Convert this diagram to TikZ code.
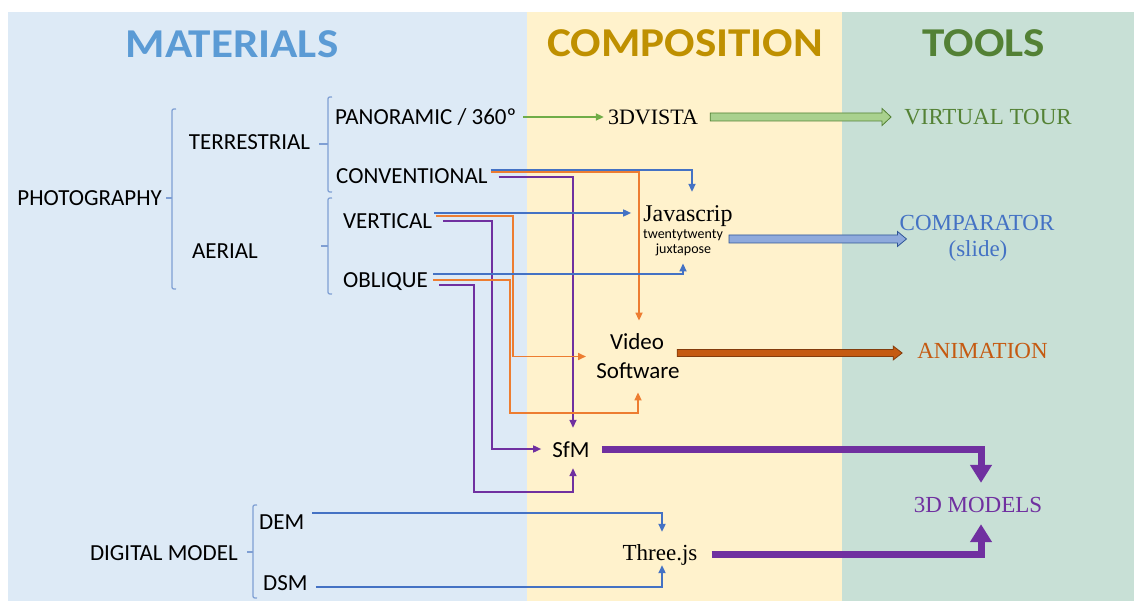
\documentclass[tikz,border=0pt]{standalone}
\usepackage{fontspec}
\setmainfont{Liberation Serif}
\newfontfamily\carl{Carlito}
\usetikzlibrary{arrows.meta,calc,fit}
\definecolor{pA}{HTML}{DDEAF6}
\definecolor{pB}{HTML}{FFF2CC}
\definecolor{pC}{HTML}{C8E0D6}
\definecolor{lblue}{HTML}{4472C4}
\definecolor{lorange}{HTML}{ED7D31}
\definecolor{lpurple}{HTML}{7030A0}
\definecolor{lgreen}{HTML}{70AD47}
\definecolor{brk}{HTML}{7F9FD3}
\definecolor{hMat}{HTML}{5B9BD5}
\definecolor{hCom}{HTML}{BF9000}
\definecolor{hToo}{HTML}{538135}
\definecolor{tGreen}{HTML}{548235}
\definecolor{tBlue}{HTML}{4472C4}
\definecolor{tOrange}{HTML}{C55A11}
\definecolor{tPurple}{HTML}{7030A0}
\definecolor{gFill}{HTML}{A9D18E}
\definecolor{gDraw}{HTML}{548235}
\definecolor{bFill}{HTML}{8FAADC}
\definecolor{bDraw}{HTML}{2F5597}
\definecolor{oFill}{HTML}{C55A11}
\definecolor{oDraw}{HTML}{843C0C}
\newcommand\blkarrow[7]{%
  \filldraw[fill=#1,draw=#2,line width=0.8pt] ($(#3)+(0,-#5)$) -- ($(#4)+(-#7,-#5)$) -- ($(#4)+(-#7,-#6)$) -- (#4) -- ($(#4)+(-#7,#6)$) -- ($(#4)+(-#7,#5)$) -- ($(#3)+(0,#5)$) -- cycle;}
\newcommand\hdtext[1]{\scalebox{1.1}[1]{#1}}
\begin{document}
\begin{tikzpicture}[x=1pt,y=-1pt,
  sl/.style={inner sep=0pt, text height=14.8pt, text depth=0pt, font=\carl\fontsize{23}{26}\selectfont},
  ss/.style={inner sep=0pt, text height=8.5pt, text depth=0pt, font=\carl\fontsize{14}{16}\selectfont},
  sr/.style={inner sep=0pt, text height=15.2pt, text depth=0pt, font=\fontsize{23}{26}\selectfont},
  hd/.style={inner sep=0pt, text height=26.4pt, text depth=0pt, font=\carl\bfseries\fontsize{41}{45}\selectfont},
  bk/.style={draw=brk, line width=1.2pt},
  cn/.style={line width=1.6pt, -{Triangle[length=8pt,width=7pt]}},
  fat/.style={line width=7pt, draw=lpurple, -{Triangle[length=18pt,width=21pt]}},
]
\useasboundingbox (0,0) rectangle (1134,601);
% panels
\fill[pA] (8,12) rectangle (527,601);
\fill[pB] (527,12) rectangle (842,601);
\fill[pC] (842,12) rectangle (1134,601);
% headers
\node[hd,text=hMat] (hmat) at (232,44.5) {\hdtext{MATERIALS}};
\node[hd,text=hCom] (hcom) at (685,43.5) {\hdtext{COMPOSITION}};
\node[hd,text=hToo] (htoo) at (984,43.5) {\hdtext{TOOLS}};
% materials
\node[sl,anchor=east] (photo) at (162,198) {PHOTOGRAPHY};
\node[sl] (terr) at (249.5,142) {TERRESTRIAL};
\node[sl] (aer) at (225,251) {AERIAL};
\node[sl,anchor=west] (pano) at (335,117) {PANORAMIC / 360º};
\node[sl,anchor=west] (conv) at (336,176) {CONVENTIONAL};
\node[sl,anchor=west] (vert) at (343,221) {VERTICAL};
\node[sl,anchor=west] (obl) at (343,280) {OBLIQUE};
\node[sl,anchor=east] (dm) at (238,553) {DIGITAL MODEL};
\node[sl,anchor=west] (dem) at (259,522) {DEM};
\node[sl,anchor=west] (dsm) at (263,583) {DSM};
% composition
\node[sr,font=\fontsize{22}{26}\selectfont,text height=14.6pt] (vista) at (653,117) {3DVISTA};
\node[sr,font=\fontsize{24}{28}\selectfont,text height=15.9pt] (js) at (688,214) {Javascrip};
\node[ss] (tw) at (683,234) {twentytwenty};
\node[ss] (jx) at (683.5,249) {juxtapose};
\node[sl] (video) at (637,342) {Video};
\node[sl] (soft) at (638,371) {Software};
\node[inner sep=0pt,fit=(video)(soft)] (vs) {};
\node[sl] (sfm) at (571,450) {SfM};
\node[sr] (three) at (660,553) {Three.js};
% tools
\node[sr,text=tGreen] (vt) at (988,117) {VIRTUAL TOUR};
\node[sr,text=tBlue] (comp) at (977,223) {COMPARATOR};
\node[sr,text=tBlue] (slide) at (978,249) {(slide)};
\node[sr,text=tOrange] (anim) at (982.5,351) {ANIMATION};
\node[sr,text=tPurple] (m3d) at (978,505) {3D MODELS};
% brackets
\draw[bk] (176,109) .. controls (172,109) .. (172,113) -- (172,285) .. controls (172,289) .. (176,289);
\draw[bk] ($(photo.east)+(4,0)$) -- (172,198);
\draw[bk] (332,97) .. controls (328,97) .. (328,101) -- (328,188) .. controls (328,192) .. (332,192);
\draw[bk] ($(terr.east)+(9,2)$) -- (328,144);
\draw[bk] (332,198) .. controls (328,198) .. (328,202) -- (328,290) .. controls (328,294) .. (332,294);
\draw[bk] (321,246) -- (328,246);
\draw[bk] (257,505) .. controls (253,505) .. (253,509) -- (253,594) .. controls (253,598) .. (257,598);
\draw[bk] ($(dm.east)+(9,-1)$) -- (253,552);
% thin connectors
\draw[cn,lgreen] ($(pano.east)+(7,0)$) -- ($(vista.west)+(-4,0)$);
\draw[cn,lblue] ($(conv.east)+(3,-6)$) -| ($(js.north)+(4,-14)$);
\draw[cn,lorange] ($(conv.east)+(3,-4)$) -| ($(vs.north)+(1,-13.6)$);
\draw[cn,lpurple] ($(conv.east)+(11,1)$) -| ($(sfm.north)+(2,-14.6)$);
\draw[cn,lblue] ($(vert.east)+(2,-8)$) -- ($(js.west)+(-12,-1)$);
\draw[cn,lorange] ($(vert.east)+(4,-5)$) -| (513,300) |- ($(vs.west)+(-10,0)$);
\draw[cn,lpurple] ($(vert.east)+(11,0)$) -| (492,300) |- ($(sfm.west)+(-11,-1)$);
\draw[cn,lblue] ($(obl.east)+(5,-6)$) -| ($(jx.south)+(-0.5,10)$);
\draw[cn,lorange] ($(obl.east)+(5,0)$) -| (510,413) -| ($(vs.south)+(0,13.6)$);
\draw[cn,lpurple] ($(obl.east)+(11,5)$) -| (474,492) -| ($(sfm.south)+(2,10.6)$);
\draw[cn,lblue,line width=2pt] ($(dem.east)+(8,-9)$) -| ($(three.north)+(2,-13.4)$);
\draw[cn,lblue,line width=2pt] ($(dsm.east)+(8,4)$) -| ($(three.south)+(2,4.4)$);
% block arrows
\path ($(vista.east)+(12,0)$) coordinate (g1) ($(vt.west)+(-13,0)$) coordinate (g2);
\blkarrow{gFill}{gDraw}{g1}{g2}{4}{8.5}{9}
\path ($(tw.east)+(6,5)$) coordinate (b1) ($(comp.west)+(7,16)$) coordinate (b2);
\blkarrow{bFill}{bDraw}{b1}{b2}{4}{7.5}{9}
\path ($(video.east)+(13,11)$) coordinate (o1) ($(anim.west)+(-15,2)$) coordinate (o2);
\blkarrow{oFill}{oDraw}{o1}{o2}{3.5}{7}{9}
% purple heavy arrows
\draw[fat] ($(sfm.east)+(12,-1)$) -| ($(m3d.north)+(3,-14.4)$);
\draw[fat] ($(three.east)+(14,1)$) -| ($(m3d.south)+(3,11.4)$);
\end{tikzpicture}
\end{document}
